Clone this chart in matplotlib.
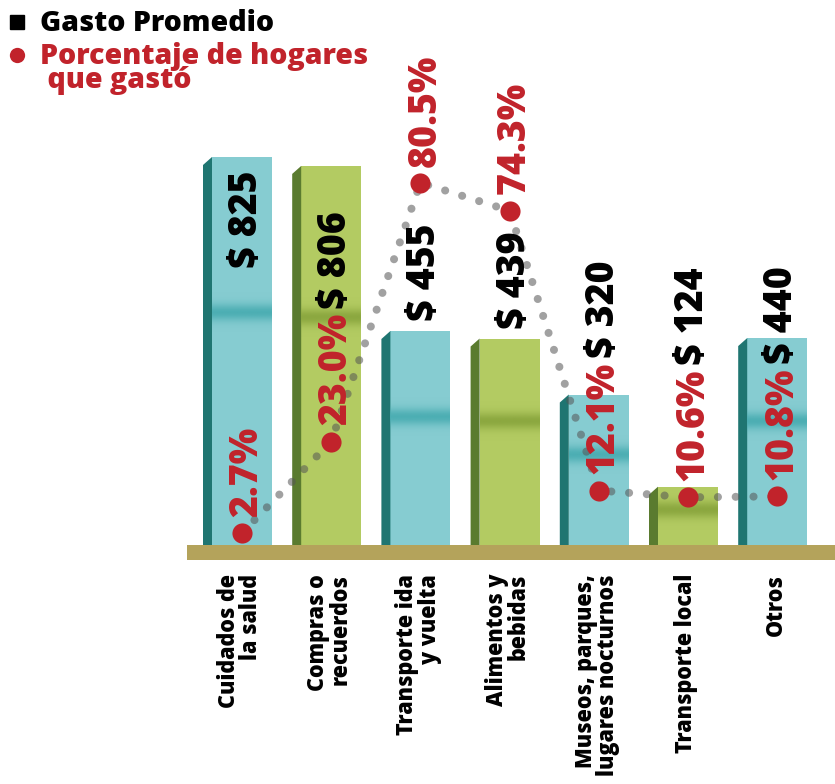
import matplotlib
matplotlib.use("Agg")
import matplotlib.pyplot as plt
import numpy as np
from matplotlib.colors import to_rgb
from matplotlib.lines import Line2D

# datos
categorias = [
    "Cuidados de\nla salud",
    "Compras o\nrecuerdos",
    "Transporte ida\ny vuelta",
    "Alimentos y\nbebidas",
    "Museos, parques,\nlugares nocturnos",
    "Transporte local",
    "Otros",
]
gasto = [825, 806, 455, 439, 320, 124, 440]
porcentaje = [2.7, 23.0, 80.5, 74.3, 12.1, 10.6, 10.8]

# estilo
CYAN = ("#86CCD1", "#4AADB2", "#1F7571")
VERDE = ("#B3CB62", "#8AA63E", "#5A7B2F")
estilos = [CYAN, VERDE, CYAN, VERDE, CYAN, VERDE, CYAN]
# donde va la etiqueta de $: dentro de la barra, sobre la barra o despues del %
modo_etiqueta = ["inside", "after", "above", "above", "after", "after", "after"]
ROJO = "#C1232B"
BASE = "#B4A35B"
FONT = "Open Sans"
PESO = 800

W, H = 835, 784
PX_USD = 388 / 825  # pixeles por dolar
PX_PCT = 4.5        # pixeles por punto porcentual
UNIT = 89.2         # pixeles entre categorias

fig = plt.figure(figsize=(W / 100, H / 100), dpi=100)
ax = fig.add_axes([187 / W, (H - 560) / H, (W - 187) / W, 560 / H])
ax2 = ax.twinx()

x = np.arange(len(gasto))
ancho = 60 / UNIT
dx = 9 / UNIT
dh = 8 / PX_USD

bars = ax.bar(x, gasto, width=ancho, color=[e[0] for e in estilos], zorder=2, linewidth=0)
for b, e in zip(bars, estilos):
    x0, w, h = b.get_x(), b.get_width(), b.get_height()
    # cara lateral
    ax.fill([x0 - dx, x0 - dx, x0, x0], [0, h - dh, h, 0], color=e[2], zorder=2, lw=0)
    # franja oscura
    yy = np.linspace(0, 1, 300)
    sig = 6 / (h * PX_USD)
    alpha = 0.95 * np.exp(-0.5 * ((yy - 0.6) / sig) ** 2)
    rgba = np.zeros((300, 1, 4))
    rgba[..., :3] = to_rgb(e[1])
    rgba[:, 0, 3] = alpha
    im = ax.imshow(rgba, extent=(x0, x0 + w, 0, h), origin="lower", aspect="auto",
                   zorder=2.5, interpolation="bilinear")
    im.set_clip_path(b)

# base
ax.axhspan(-15 / PX_USD, 0, color=BASE, zorder=1, lw=0)

ax.set_xlim(-55 / UNIT, (W - 242) / UNIT)
ax.set_ylim(-15 / PX_USD, 545 / PX_USD)
ax2.set_ylim(-15 / PX_PCT, 545 / PX_PCT)
for a in (ax, ax2):
    a.axis("off")

# linea punteada y puntos
ax2.plot(x, porcentaje, ls=(0, (0.01, 2.2)), lw=5.8, color="#555555", alpha=0.55,
         dash_capstyle="round", zorder=3)
ax2.plot(x, porcentaje, "o", ms=14.5, color=ROJO, mec="none", zorder=4)

txt = dict(rotation=90, fontsize=27, fontweight=PESO, family=FONT, ha="center", zorder=5)
etq_pct = []
for i, p in enumerate(porcentaje):
    t = ax2.text(i + 0.05, p + 3.6, f"{p:.1f}%", va="bottom", color=ROJO, **txt)
    etq_pct.append(t)

fig.canvas.draw()
rend = fig.canvas.get_renderer()
for i, (v, modo) in enumerate(zip(gasto, modo_etiqueta)):
    if modo == "inside":
        ax2.text(i + 0.05, v - 13 / PX_USD, f"$ {v}", va="top", color="black",
                 transform=ax.transData, **txt)
    elif modo == "above":
        ax2.text(i + 0.05, v + 10 / PX_USD, f"$ {v}", va="bottom", color="black",
                 transform=ax.transData, **txt)
    else:
        bb = etq_pct[i].get_window_extent(rend)
        y = ax.transData.inverted().transform((0, bb.y1 + 4))[1]
        ax2.text(i + 0.05, y, f"$ {v}", va="bottom", color="black",
                 transform=ax.transData, **txt)

# categorias
for i, c in enumerate(categorias):
    ax.text(i - 0.02, -14 / 560, c, transform=ax.get_xaxis_transform(), rotation=90,
            ha="center", va="top", multialignment="right", linespacing=0.92,
            fontsize=15.5, fontweight=PESO, family=FONT, color="black")

# leyenda
fig.add_artist(Line2D([17 / W], [1 - 22 / H], marker="s", ms=10, color="black",
                      transform=fig.transFigure, ls="none"))
fig.add_artist(Line2D([17 / W], [1 - 55 / H], marker="o", ms=11, color=ROJO, mec="none",
                      transform=fig.transFigure, ls="none"))
fig.text(40 / W, 1 - 31 / H, "Gasto Promedio", fontsize=20.5, fontweight=PESO,
         family=FONT, color="black", va="baseline")
fig.text(40 / W, 1 - 88 / H, "Porcentaje de hogares\n que gastó", fontsize=20.5,
         fontweight=PESO, family=FONT, color=ROJO, va="baseline", linespacing=0.78)

fig.savefig("out.png", dpi=100)
